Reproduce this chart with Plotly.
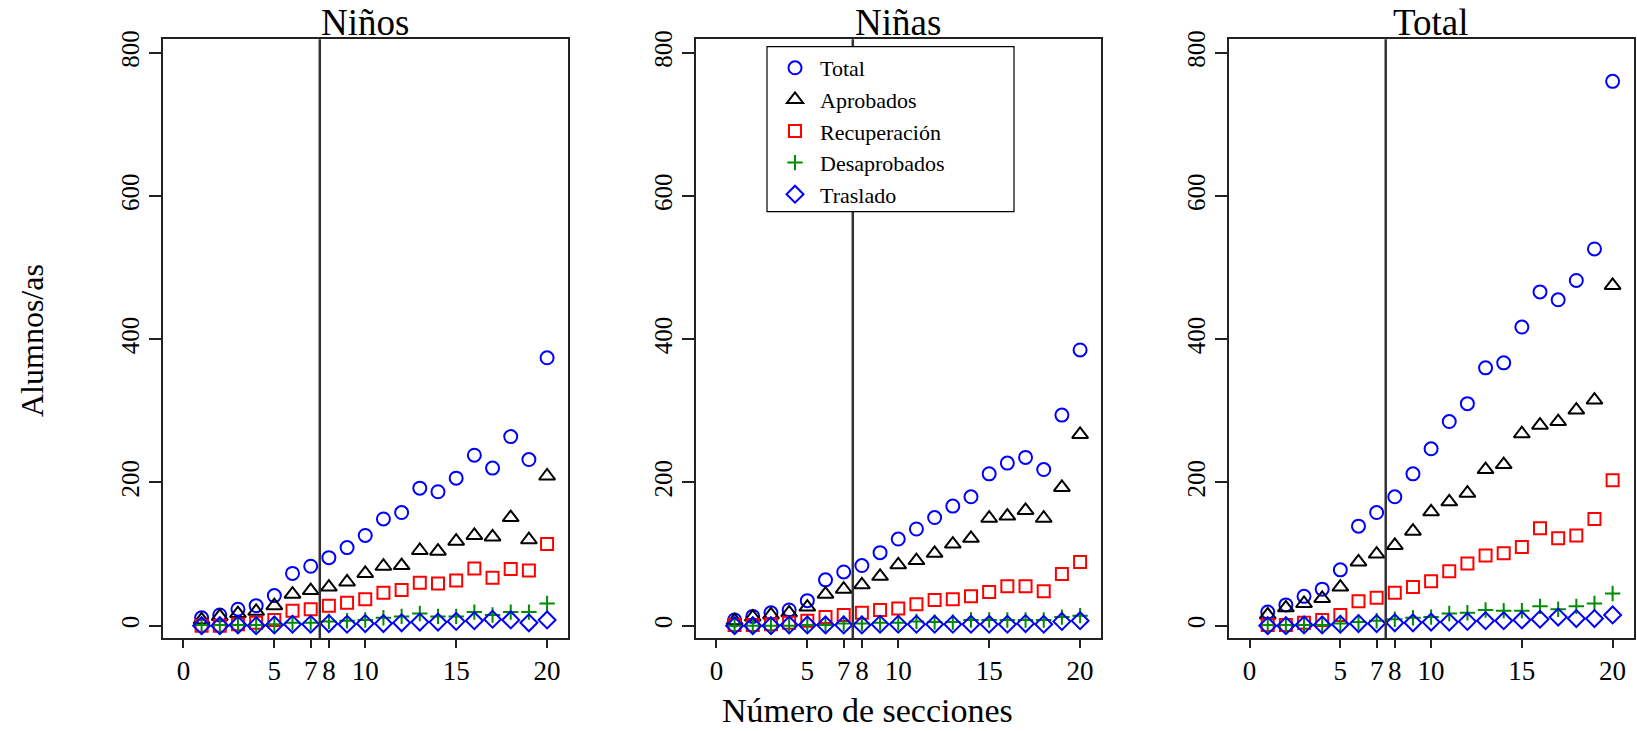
import plotly.graph_objects as go

# Número de sección (1..20)
secciones = list(range(1, 21))

# Niños
ninos_total = [11, 15, 23, 28, 42, 73, 83, 95, 109, 126, 149, 158, 192, 187, 206, 238, 220, 264, 232, 374]
ninos_aprobados = [8, 13, 17, 20, 28, 44, 49, 54, 61, 73, 83, 84, 105, 104, 118, 126, 124, 151, 120, 209]
ninos_recuperacion = [0, 0, 2, 4, 8, 21, 23, 28, 32, 37, 46, 50, 60, 59, 63, 80, 67, 79, 77, 114]
ninos_desaprobados = [1, 1, 1, 1, 2, 4, 4, 6, 7, 8, 11, 13, 17, 13, 13, 19, 15, 19, 19, 31]
ninos_traslado = [0, 0, 1, 0, 1, 2, 2, 3, 2, 3, 3, 4, 5, 5, 6, 7, 9, 8, 4, 8]

# Niñas
ninas_total = [8, 13, 18, 22, 35, 64, 75, 84, 102, 121, 135, 151, 167, 180, 212, 227, 235, 218, 294, 385]
ninas_aprobados = [7, 12, 15, 18, 26, 44, 51, 57, 69, 85, 91, 101, 114, 122, 150, 153, 161, 150, 193, 267]
ninas_recuperacion = [1, 1, 2, 4, 7, 12, 15, 18, 22, 24, 30, 36, 37, 41, 47, 55, 55, 48, 72, 89]
ninas_desaprobados = [0, 0, 0, 0, 1, 1, 3, 3, 4, 4, 6, 5, 5, 8, 8, 8, 8, 8, 12, 14]
ninas_traslado = [0, 0, 0, 1, 1, 1, 1, 1, 2, 2, 2, 2, 2, 2, 2, 2, 3, 2, 6, 7]

# Total
total_total = [19, 29, 41, 51, 78, 139, 158, 180, 212, 247, 285, 310, 360, 367, 417, 466, 455, 482, 526, 760]
total_aprobados = [15, 25, 31, 38, 54, 89, 100, 112, 132, 159, 173, 185, 218, 225, 268, 280, 285, 301, 315, 475]
total_recuperacion = [1, 1, 4, 8, 15, 34, 39, 46, 54, 62, 76, 87, 98, 101, 110, 136, 122, 126, 149, 203]
total_desaprobados = [1, 1, 1, 1, 3, 5, 7, 9, 11, 12, 17, 18, 22, 21, 21, 27, 23, 27, 31, 45]
total_traslado = [0, 0, 1, 1, 2, 3, 3, 4, 4, 5, 5, 6, 7, 7, 8, 9, 12, 10, 10, 15]

panel_titles = ["Niños", "Niñas", "Total"]
series_names = ["Total", "Aprobados", "Recuperación", "Desaprobados", "Traslado"]
panels = [
    [ninos_total, ninos_aprobados, ninos_recuperacion, ninos_desaprobados, ninos_traslado],
    [ninas_total, ninas_aprobados, ninas_recuperacion, ninas_desaprobados, ninas_traslado],
    [total_total, total_aprobados, total_recuperacion, total_desaprobados, total_traslado],
]
x_tickvals = [0, 5, 7, 8, 10, 15, 20]
y_tickvals = [0, 200, 400, 600, 800]
corte = 7.5

W, H = 1637, 731
SERIF = "Liberation Serif"

styles = [
    dict(symbol="circle-open", size=13, color="#0000FF"),
    dict(symbol="triangle-up-open", size=14, color="#000000"),
    dict(symbol="square-open", size=12, color="#FF0000"),
    dict(symbol="cross-thin-open", size=11, color="#008B00"),
    dict(symbol="diamond-open", size=13, color="#0000FF"),
]

x_domains = [(162.5, 568.0), (695.5, 1101.0), (1228.7, 1633.5)]
y_dom = (1 - 638.3 / H, 1 - 39.3 / H)

fig = go.Figure()
for p, series in enumerate(panels):
    xa = "x" if p == 0 else f"x{p + 1}"
    ya = "y" if p == 0 else f"y{p + 1}"
    for s, (name, vals) in enumerate(zip(series_names, series)):
        st = styles[s]
        fig.add_trace(go.Scatter(
            x=secciones, y=vals, mode="markers", name=name,
            legendgroup=name, showlegend=(p == 0),
            xaxis=xa, yaxis=ya,
            marker=dict(symbol=st["symbol"], size=st["size"], color=st["color"],
                        line=dict(width=2, color=st["color"])),
        ))

shapes = []
annotations = []
layout = {}
for p in range(3):
    sfx = "" if p == 0 else str(p + 1)
    x0, x1 = x_domains[p]
    layout[f"xaxis{sfx}"] = dict(
        domain=[x0 / W, x1 / W], range=[-1.15, 21.15], anchor=f"y{sfx}",
        tickmode="array", tickvals=x_tickvals, ticks="outside", ticklen=8,
        tickwidth=1.5, tickcolor="#222", showgrid=False, zeroline=False,
        showline=True, mirror=True, linecolor="#222", linewidth=1.5,
        tickfont=dict(family=SERIF, size=27, color="black"), automargin=False,
    )
    layout[f"yaxis{sfx}"] = dict(
        domain=list(y_dom), range=[-17.6, 818.7], anchor=f"x{sfx}",
        tickmode="array", tickvals=y_tickvals, ticks="outside", ticklen=12,
        tickwidth=1.5, tickcolor="#222", showgrid=False, zeroline=False,
        showline=True, mirror=True, linecolor="#222", linewidth=1.5,
        tickangle=-90,
        tickfont=dict(family=SERIF, size=25, color="black"), automargin=False,
    )
    shapes.append(dict(
        type="line", xref=f"x{sfx}", yref=f"y{sfx} domain",
        x0=corte, x1=corte, y0=0, y1=1,
        line=dict(color="#333333", width=2.5), layer="above",
    ))
    annotations.append(dict(
        text=panel_titles[p], x=(x0 + x1) / 2 / W, y=1,
        xref="paper", yref="paper", showarrow=False,
        xanchor="center", yanchor="top",
        font=dict(family=SERIF, size=37, color="black"),
    ))

# legend frame inside the middle panel, drawn over the cut line
shapes.append(dict(
    type="rect", xref="x2 domain", yref="y2 domain",
    x0=(767 - 695.5) / 405.5, x1=(1014 - 695.5) / 405.5,
    y0=(638.3 - 211.7) / 599.0, y1=(638.3 - 46.7) / 599.0,
    fillcolor="white", line=dict(color="black", width=1.2), layer="above",
))

annotations.append(dict(
    text="Alumnos/as", x=32 / W, y=1 - 341 / H, xref="paper", yref="paper",
    showarrow=False, textangle=-90, xanchor="center", yanchor="middle",
    font=dict(family=SERIF, size=32, color="black"),
))
annotations.append(dict(
    text="Número de secciones", x=867 / W, y=0, xref="paper", yref="paper",
    showarrow=False, xanchor="center", yanchor="bottom",
    font=dict(family=SERIF, size=34, color="black"),
))

fig.update_layout(
    width=W, height=H, margin=dict(l=0, r=0, t=0, b=0),
    paper_bgcolor="white", plot_bgcolor="white",
    font=dict(family=SERIF, color="black"),
    shapes=shapes, annotations=annotations,
    legend=dict(
        x=770 / W, y=1 - 47 / H, xanchor="left", yanchor="top",
        bgcolor="rgba(0,0,0,0)", borderwidth=0,
        font=dict(family=SERIF, size=22, color="black"),
        itemwidth=40, tracegroupgap=0,
    ),
    **layout,
)

fig.write_html("out.html")
